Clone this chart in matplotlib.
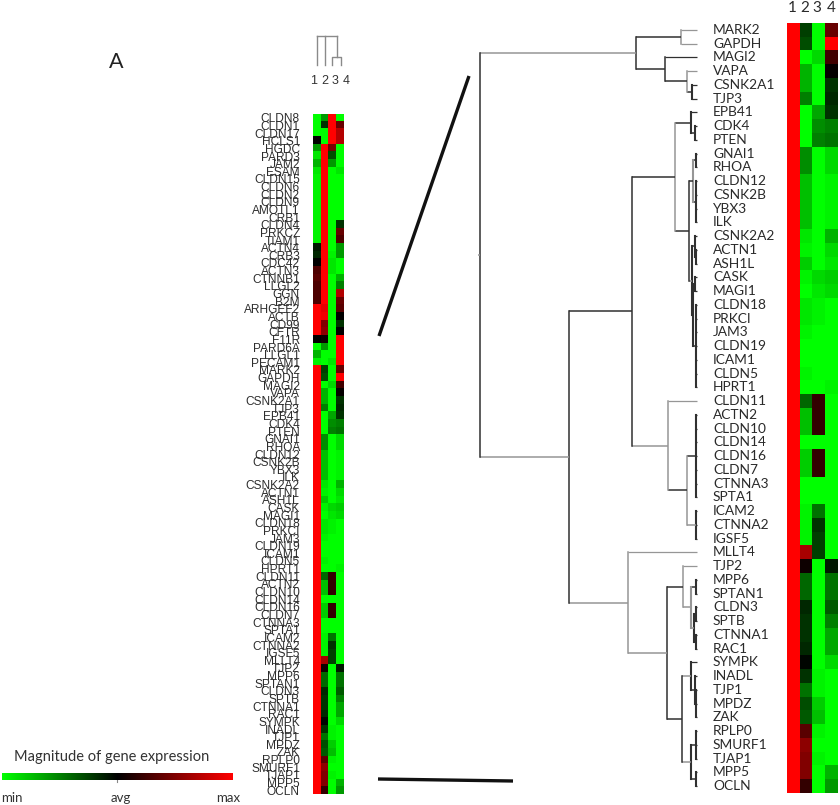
import matplotlib
matplotlib.use('Agg')
from matplotlib import pyplot as plt
from matplotlib.colors import LinearSegmentedColormap
import numpy as np

W, H = 840, 805

# genes only present in the left overview
upper_genes = ['CLDN8', 'CLDN1', 'CLDN17', 'HCLS1', 'HGDC', 'PARD3', 'JAM2', 'ESAM', 'CLDN15', 'CLDN6',
               'CLDN2', 'CLDN9', 'AMOTL1', 'CRB1', 'CLDN4', 'PRKCZ', 'TIAM1', 'ACTN4', 'CRB3', 'CDC42',
               'ACTN3', 'CTNNB1', 'LLGL2', 'GGN', 'B2M', 'ARHGEF2', 'ACTB', 'CD99', 'CFTR', 'F11R',
               'PARD6A', 'LLGL1', 'PECAM1']
upper_c1 = [-1, -1, -1, 0, -.6, -.9, -.7, -.9, -.95, -.95, -.95, -.95, -.95, -.95, -.95, -.95, -.95,
            -.1, -.15, 0, .3, .35, .3, .3, .3, 1, 1, 1, 1, 0, -1, -.7, -.95]
upper_c2 = [-.6, -.2, -1, -1, 1, 1, 1, 1, 1, 1, 1, 1, 1, 1, 1, 1, 1,
            1, 1, 1, 1, 1, 1, 1, 1, .9, .95, .5, .55, .05, -.6, -1, -1]
upper_c3 = [1, 1, 1, 1, .45, -.3, -.6, -1, -1, -1, -1, -1, -1, -1, -1, -1, -1,
            -1, -.95, -.9, -.9, -1, -1, -1, -1, -1, -1, -1, -1, -1, -1, -1, -.9]
upper_c4 = [-1, .4, .7, .7, -1, -1, -1, -.9, -1, -1, -1, -1, -1, -1, -.2, .4, .3,
            -.6, -.6, -1, -1, -.7, -.5, .7, .4, .35, 0, -.2, 0, 1, 1, 1, 1]

# genes of the enlarged cluster, also the lower part of the overview
genes = ['MARK2', 'GAPDH', 'MAGI2', 'VAPA', 'CSNK2A1', 'TJP3', 'EPB41', 'CDK4', 'PTEN', 'GNAI1', 'RHOA',
         'CLDN12', 'CSNK2B', 'YBX3', 'ILK', 'CSNK2A2', 'ACTN1', 'ASH1L', 'CASK', 'MAGI1', 'CLDN18', 'PRKCI',
         'JAM3', 'CLDN19', 'ICAM1', 'CLDN5', 'HPRT1', 'CLDN11', 'ACTN2', 'CLDN10', 'CLDN14', 'CLDN16', 'CLDN7',
         'CTNNA3', 'SPTA1', 'ICAM2', 'CTNNA2', 'IGSF5', 'MLLT4', 'TJP2', 'MPP6', 'SPTAN1', 'CLDN3', 'SPTB',
         'CTNNA1', 'RAC1', 'SYMPK', 'INADL', 'TJP1', 'MPDZ', 'ZAK', 'RPLP0', 'SMURF1', 'TJAP1', 'MPP5', 'OCLN']
c1 = [1] * 56
c2 = [-.25, -.3, -1, -.7, -.7, -.5, -1, -1, -1, -.55, -.55, -.75, -.75, -.75, -.75, -.9, -.95, -.8, -.95,
      -1, -.9, -.9, -.95, -1, -1, -.95, -1, -.4, -.75, -.75, -1, -.8, -.8, -1, -1, -.95, -.95, -.95, .65,
      .05, -.4, -.4, -.15, -.2, -.2, -.15, -.02, -.2, -.45, -.3, -.35, .35, .55, .5, .5, .2]
c3 = [-1, -1, -.85, -1, -1, -1, -.65, -.55, -.5, -1, -1, -1, -1, -1, -1, -1, -1, -1, -.85,
      -.9, -.95, -.95, -1, -1, -1, -1, -1, .2, .2, .2, -1, .2, .2, -1, -1, -.45, -.2, -.25, -.25,
      -1, -1, -1, -1, -1, -1, -1, -1, -.95, -.95, -.8, -.75, -.95, -1, -.95, -1, -1]
c4 = [.4, 1, .25, .02, -.2, -.15, -.2, -.5, -.45, -.85, -.85, -.95, -.95, -.95, -.95, -.7, -.85, -.9, -.8,
      -.85, -1, -1, -1, -1, -1, -1, -.95, -1, -1, -1, -1, -1, -1, -1, -1, -1, -1, -1, -1,
      -.1, -.45, -.45, -.35, -.5, -.65, -.65, -.85, -1, -1, -1, -1, -1, -1, -1, -.7, -.6]

col_labels = ['1', '2', '3', '4']

GREY = '#969696'
DARK = '#303030'

# dendrogram: (merge height, stem colour, spine colour, children)
tree = (480, GREY, DARK, [
    (636, GREY, DARK, [
        (681, DARK, GREY, ['MARK2', 'GAPDH']),
        (665, DARK, DARK, [
            'MAGI2',
            (687, DARK, GREY, ['VAPA', (692, DARK, DARK, ['CSNK2A1', 'TJP3'])]),
        ]),
    ]),
    (569, GREY, DARK, [
        (632, DARK, DARK, [
            (675, DARK, GREY, [
                (691, DARK, DARK, ['EPB41', (695, DARK, DARK, ['CDK4', 'PTEN'])]),
                (689, DARK, DARK, [
                    (693, DARK, GREY, [
                        (696, DARK, DARK, ['GNAI1', 'RHOA']),
                        (696, DARK, DARK, ['CLDN12', 'CSNK2B', 'YBX3', 'ILK']),
                    ]),
                    (692, GREY, DARK, [
                        (695, DARK, DARK, ['CSNK2A2', (696, DARK, DARK, ['ACTN1', 'ASH1L'])]),
                        (693, DARK, DARK, [
                            (695, DARK, DARK, ['CASK', 'MAGI1']),
                            (696, DARK, DARK, ['CLDN18', 'PRKCI', 'JAM3', 'CLDN19', 'ICAM1', 'CLDN5', 'HPRT1']),
                        ]),
                    ]),
                ]),
            ]),
            (668, GREY, GREY, [
                'CLDN11',
                (687, DARK, GREY, [
                    (696, DARK, DARK, ['ACTN2', 'CLDN10', 'CLDN14', 'CLDN16', 'CLDN7', 'CTNNA3', 'SPTA1']),
                    (696, GREY, DARK, ['ICAM2', 'CTNNA2', 'IGSF5']),
                ]),
            ]),
        ]),
        (628, GREY, GREY, [
            'MLLT4',
            (667, GREY, DARK, [
                (683, DARK, GREY, [
                    'TJP2',
                    (691, GREY, GREY, [
                        (696, DARK, DARK, ['MPP6', 'SPTAN1']),
                        (694, GREY, DARK, [
                            (696, DARK, DARK, ['CLDN3', 'SPTB']),
                            (696, DARK, DARK, ['CTNNA1', 'RAC1']),
                        ]),
                    ]),
                ]),
                (682, DARK, DARK, [
                    (691, GREY, DARK, [
                        'SYMPK',
                        (695, DARK, DARK, ['INADL', (696, DARK, DARK, ['TJP1', 'MPDZ', 'ZAK'])]),
                    ]),
                    (691, GREY, DARK, [
                        (696, DARK, DARK, ['RPLP0', 'SMURF1', 'TJAP1']),
                        (696, DARK, DARK, ['MPP5', 'OCLN']),
                    ]),
                ]),
            ]),
        ]),
    ]),
])

cmap = LinearSegmentedColormap.from_list('gbr', ['#00ff00', '#000000', '#ff0000'])


def axes_px(fig, x0, y0, x1, y1):
    # axes from pixel box, y going down
    return fig.add_axes([x0 / W, 1 - y1 / H, (x1 - x0) / W, (y1 - y0) / H])


def draw_tree(ax, node, parent_x):
    if isinstance(node, str):
        return genes.index(node) + 0.5
    x, stem, spine, kids = node
    ys = []
    for kid in kids:
        ys.append(draw_tree(ax, kid, x))
    for kid, y in zip(kids, ys):
        if isinstance(kid, str):
            ax.plot([x, 697], [y, y], color=spine, lw=0.9, solid_capstyle='butt')
    # the small combs near the leaves are heavier
    ax.plot([x, x], [ys[0], ys[-1]], color=spine, lw=1.5 if x > 690 else 1.1, solid_capstyle='projecting')
    mid = (ys[0] + ys[-1]) / 2
    ax.plot([parent_x, x], [mid, mid], color=stem, lw=1.1, solid_capstyle='butt')
    return mid


fig = plt.figure(figsize=(W / 100, H / 100), dpi=100)

overview = np.array([upper_c1 + c1, upper_c2 + c2, upper_c3 + c3, upper_c4 + c4]).T
detail = np.array([c1, c2, c3, c4]).T

# left overview heatmap
ax = axes_px(fig, 313, 114, 343.5, 794)
ax.imshow(overview, cmap=cmap, vmin=-1, vmax=1, aspect='auto', interpolation='nearest')
ax.set_xticks([])
ax.set_yticks(np.arange(len(overview)), upper_genes + genes, fontsize=8.6, family='Liberation Sans',
              color='#2e2e2e')
ax.tick_params(axis='y', length=0, pad=9.4)
for s in ax.spines.values():
    s.set_visible(False)

# right detail heatmap
ax = axes_px(fig, 787, 23, 838, 793)
ax.imshow(detail, cmap=cmap, vmin=-1, vmax=1, aspect='auto', interpolation='nearest')
ax.axis('off')

# detail dendrogram and gene names, rows line up with the heatmap
ax = axes_px(fig, 470, 23, 787, 793)
ax.set_xlim(470, 787)
ax.set_ylim(len(genes), 0)
ax.axis('off')
draw_tree(ax, tree, 478)
for i, name in enumerate(genes):
    ax.text(713, i + 0.5, name, fontsize=9.9, family='Lato', color='#2a2a2a', va='center', ha='left')

# everything else in pixel coordinates
ov = axes_px(fig, 0, 0, W, H)
ov.set_xlim(0, W)
ov.set_ylim(H, 0)
ov.axis('off')
ov.patch.set_alpha(0)

# small column dendrogram
ov.plot([317, 317], [36, 65], color='#8a8a8a', lw=1)
ov.plot([325, 325], [36, 65], color='#8a8a8a', lw=1)
ov.plot([337, 337], [36, 57], color='#8a8a8a', lw=1)
ov.plot([317, 337], [36, 36], color='#8a8a8a', lw=1)
ov.plot([332, 332, 341, 341], [65, 57, 57, 65], color='#8a8a8a', lw=1)

for lab, x in zip(col_labels, [313.5, 324.5, 335, 346]):
    ov.text(x, 81, lab, fontsize=9, family='Liberation Sans', color='#333333', ha='center', va='center')
for lab, x in zip(col_labels, [792, 805, 817, 831]):
    ov.text(x, 8, lab, fontsize=11, family='Lato', color='#2a2a2a', ha='center', va='center')

ov.text(116, 62, 'A', fontsize=15.5, family='Lato', color='#222222', ha='center', va='center')

# zoom lines
ov.plot([469, 379], [76, 336], color='#111111', lw=2.4, solid_capstyle='butt')
ov.plot([378, 513], [779, 781], color='#111111', lw=2.4, solid_capstyle='butt')

# colour key
ov.text(14, 757, 'Magnitude of gene expression', fontsize=10.5, family='Lato', color='#333333', va='center')
for lab, x in [('min', 12), ('avg', 121), ('max', 228)]:
    ov.text(x, 798, lab, fontsize=9.5, family='Lato', color='#333333', ha='center', va='center')
ov.plot([117, 117], [780, 782], color='#888888', lw=0.8)

key = axes_px(fig, 2, 773, 232, 780)
key.imshow(np.linspace(-1, 1, 256).reshape(1, -1), cmap=cmap, aspect='auto')
key.axis('off')

fig.savefig('out.png', dpi=100)
